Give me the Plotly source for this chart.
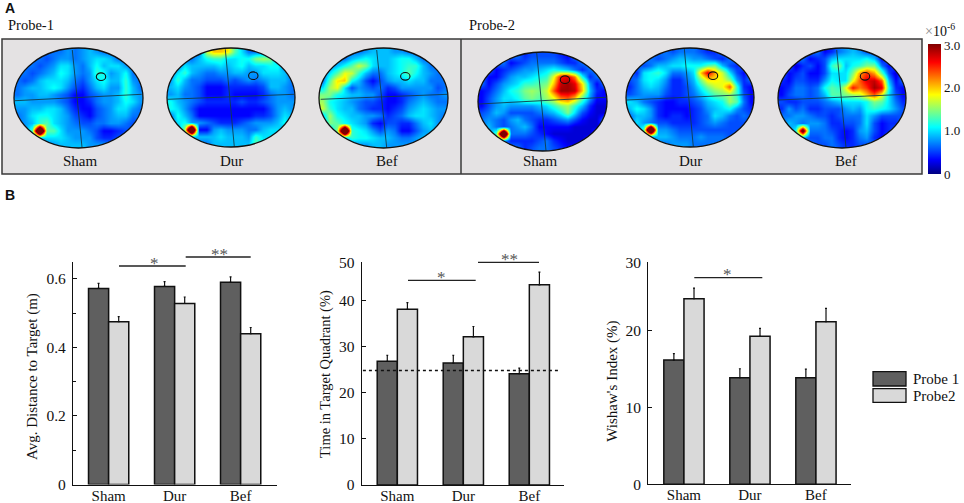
import numpy as np
import plotly.graph_objects as go

groups = ["Sham", "Dur", "Bef"]

# bar values
dist_probe1 = [0.572, 0.578, 0.590]
dist_probe2 = [0.475, 0.528, 0.440]
dist_err1 = [0.015, 0.014, 0.016]
dist_err2 = [0.015, 0.019, 0.018]

time_probe1 = [26.9, 26.5, 24.2]
time_probe2 = [38.2, 32.2, 43.5]
time_err1 = [1.3, 1.7, 1.2]
time_err2 = [1.45, 2.25, 2.75]

wish_probe1 = [16.2, 13.9, 13.9]
wish_probe2 = [24.2, 19.3, 21.2]
wish_err1 = [0.83, 1.17, 1.13]
wish_err2 = [1.39, 1.04, 1.74]

p1_sham = [
    [6,6,6,6,6,6,6,7,6,7,8,7,6,6,6,6,6,6],
    [6,6,6,6,5,6,7,7,6,7,8,9,9,8,6,6,6,6],
    [6,6,6,5,6,7,9,9,7,6,8,10,8,9,9,7,6,6],
    [6,6,5,6,7,8,10,9,7,6,7,11,10,7,8,10,6,6],
    [6,5,6,8,9,9,9,8,6,5,7,9,10,8,8,11,7,6],
    [6,7,8,8,9,10,9,7,5,4,6,8,9,7,7,11,8,6],
    [6,7,7,8,8,7,6,5,3,3,5,6,7,7,8,11,8,7],
    [8,8,7,7,7,7,6,5,3,3,4,6,7,7,8,10,9,7],
    [7,7,8,8,9,9,8,6,4,3,3,5,6,7,9,9,7,6],
    [6,7,9,10,10,9,8,7,5,4,3,5,6,7,8,8,6,6],
    [6,7,8,11,12,9,8,7,6,5,5,6,6,7,7,6,5,5],
    [6,6,12,45,12,12,9,7,7,7,6,5,3,3,4,5,5,6],
    [6,6,6,8,9,9,9,8,7,7,7,5,4,4,5,5,6,6],
    [6,6,6,6,6,7,8,8,8,8,7,7,7,6,6,6,6,6],
]
p1_dur = [
    [6,6,6,6,6,15,18,18,17,12,9,6,6,6,6,6,6,6],
    [6,6,6,6,8,10,11,11,9,9,10,10,13,14,13,6,6,6],
    [6,6,9,8,8,8,8,9,8,9,10,8,9,9,10,10,6,6],
    [6,9,11,8,7,6,6,7,7,8,8,7,7,9,9,9,8,6],
    [7,11,8,6,6,5,5,5,6,5,6,7,6,7,8,8,8,6],
    [8,9,7,6,5,3,3,3,4,4,4,4,4,5,8,8,7,6],
    [7,8,6,6,5,3,3,3,4,3,3,3,3,4,6,7,7,6],
    [10,8,7,6,5,4,4,4,4,4,5,4,4,5,6,7,7,7],
    [10,9,7,5,3,3,3,3,3,3,3,3,3,3,5,7,8,7],
    [6,10,8,6,3,3,3,3,3,3,3,3,4,4,5,7,9,8],
    [6,9,10,7,7,6,5,4,4,4,5,6,7,7,7,8,10,7],
    [6,6,14,45,3,3,7,8,7,7,7,6,6,8,9,9,7,6],
    [6,6,6,8,8,8,8,9,8,8,8,7,11,9,9,8,6,6],
    [6,6,6,6,6,6,8,8,8,8,8,8,12,10,6,6,6,6],
]
p1_bef = [
    [6,6,6,6,6,6,7,8,8,8,7,7,6,6,6,6,6,6],
    [6,6,6,6,8,9,10,9,8,8,9,10,10,8,6,6,6,6],
    [6,6,8,10,12,15,13,9,8,8,9,10,11,11,8,6,6,6],
    [6,9,12,16,15,11,8,6,6,8,9,10,12,10,8,7,6,6],
    [6,12,17,18,10,8,5,3,5,7,8,8,9,8,8,6,6,6],
    [9,14,16,9,5,7,6,5,6,4,5,7,7,7,7,7,5,6],
    [13,13,10,9,8,8,7,7,5,3,3,4,5,6,7,6,6,7],
    [14,10,9,8,7,6,5,5,4,3,3,4,6,7,8,7,6,6],
    [15,11,9,8,8,6,5,4,4,3,4,5,7,8,9,8,7,7],
    [8,14,10,9,8,8,7,7,6,4,5,6,8,9,9,8,7,6],
    [6,13,12,10,9,8,7,4,3,5,5,4,4,6,8,9,7,6],
    [6,6,14,45,11,10,9,7,5,7,6,3,3,5,7,8,7,6],
    [6,6,6,8,11,10,10,9,8,8,7,6,6,7,8,7,6,6],
    [6,6,6,6,6,7,7,8,8,7,7,7,7,7,6,6,6,6],
]
p2_sham = [
    [6,6,6,6,6,6,4,5,5,5,5,4,3,6,6,6,6,6],
    [6,6,6,6,3,4,5,6,6,6,6,5,4,4,6,6,6,6],
    [6,6,3,4,5,6,7,7,8,9,10,9,8,6,4,6,6,6],
    [6,3,3,5,7,8,8,9,10,11,16,23,24,20,10,4,6,6],
    [6,3,5,7,8,9,11,11,12,13,18,25,26,24,17,7,3,6],
    [3,4,6,8,10,11,13,14,13,15,21,26,26,25,18,8,4,3],
    [3,5,7,9,9,10,12,13,12,14,16,20,21,18,12,7,3,3],
    [3,5,7,8,7,7,7,7,8,9,11,13,14,11,8,4,2,2],
    [5,6,8,7,5,5,5,5,6,7,8,10,13,9,5,3,2,2],
    [6,7,6,5,7,8,6,5,4,4,5,6,7,5,3,2,2,6],
    [6,8,6,5,6,7,8,6,3,3,3,3,3,2,2,2,2,6],
    [6,6,12,45,6,6,6,5,4,3,2,2,2,2,2,2,6,6],
    [6,6,6,7,4,4,4,4,5,6,4,3,2,2,2,6,6,6],
    [6,6,6,6,6,6,4,5,6,6,5,4,3,3,6,6,6,6],
]
p2_dur = [
    [6,6,6,6,6,6,5,6,6,6,5,4,4,6,6,6,6,6],
    [6,6,6,6,5,6,7,8,8,7,7,6,5,4,6,6,6,6],
    [6,6,5,6,8,8,9,9,10,10,10,12,13,8,5,4,6,6],
    [6,4,9,10,11,9,6,6,7,9,18,24,19,15,9,5,3,6],
    [5,6,9,10,9,7,4,4,6,8,13,17,17,16,13,7,4,6],
    [4,6,8,9,8,6,4,4,5,7,10,13,15,16,21,11,4,3],
    [5,6,7,7,7,5,4,4,5,6,8,10,12,13,14,11,5,3],
    [9,8,6,5,4,3,3,4,4,5,6,8,9,10,14,12,6,3],
    [8,10,9,7,4,3,3,3,3,4,5,7,8,9,10,7,5,4],
    [6,8,8,7,4,3,4,4,3,4,5,6,9,8,6,5,6,5],
    [6,9,7,6,5,5,4,4,4,4,5,6,7,6,5,5,5,5],
    [6,6,12,45,7,7,6,5,5,5,5,5,5,5,5,5,5,6],
    [6,6,6,7,8,8,7,6,6,6,7,6,6,6,5,6,6,6],
    [6,6,6,6,6,6,7,7,7,6,6,6,6,6,6,6,6,6],
]
p2_bef = [
    [6,6,6,6,6,6,3,4,6,7,8,7,5,5,6,6,6,6],
    [6,6,6,6,3,4,5,8,9,9,9,9,10,8,3,6,6,6],
    [6,6,2,4,5,3,5,11,13,8,10,11,13,13,6,3,6,6],
    [6,3,4,5,3,3,5,9,9,9,13,19,22,19,12,5,2,6],
    [4,3,5,5,4,4,7,10,9,9,16,21,24,25,21,8,3,6],
    [3,4,6,6,5,6,10,12,11,16,23,20,22,26,24,10,4,3],
    [3,5,6,6,5,6,8,12,12,13,14,15,18,21,16,9,5,3],
    [5,4,4,5,5,5,6,7,8,9,9,9,10,13,12,9,6,4],
    [4,7,5,6,4,4,5,5,5,7,8,7,10,11,10,9,7,5],
    [6,6,7,7,6,5,5,4,5,6,6,6,9,7,5,5,5,5],
    [6,8,7,6,7,7,6,4,4,5,5,6,9,5,3,4,4,6],
    [6,6,10,32,6,6,6,5,4,3,4,7,8,5,3,4,6,6],
    [6,6,6,7,5,5,6,6,4,3,4,6,7,4,3,6,6,6],
    [6,6,6,6,6,5,5,6,5,4,4,5,5,6,6,6,6,6],
]

W, H = 964, 503
serif = "Liberation Serif"
grey_bg = "#e4e2e3"
jet = [[0, "#000080"], [0.11, "#0000ff"], [0.36, "#00ffff"], [0.61, "#ffff00"], [0.86, "#ff0000"], [1, "#800000"]]

# pool positions on the page: grid, left, right, top, bottom, target circle, cross lines
pools = [
    (p1_sham, 14, 143, 48, 148, (101, 76.7), (72.3, 50, 82, 147.3), (15, 100.7, 141.7, 94.3), "Sham", 80.7),
    (p1_dur, 167, 295, 48, 147, (253.3, 75.7), (225.3, 49.3, 234.3, 146.7), (167.7, 99.3, 294, 94.3), "Dur", 231),
    (p1_bef, 319, 448, 48, 148, (405.3, 76.3), (376.7, 50, 386.7, 147.7), (320.7, 99.3, 447.3, 94.3), "Bef", 386.7),
    (p2_sham, 478, 607, 52, 151, (565, 79.7), (536.7, 52.7, 546, 150.7), (479, 104, 606, 97.3), "Sham", 540),
    (p2_dur, 626, 754, 48, 147, (713, 75.7), (684.3, 48.7, 693.3, 146.7), (626.7, 100, 754, 94.3), "Dur", 690.7),
    (p2_bef, 778, 906, 48, 148, (865, 76.3), (836.7, 50, 846, 147.7), (778.3, 100, 905.7, 94.3), "Bef", 846),
]

fig = go.Figure()
shapes = []
annots = []


def text(x, y, s, size=15.5, color="#111", font=serif, angle=0, xanchor="center", bold=False):
    annots.append(dict(x=x, y=y, xref="x", yref="y", text=f"<b>{s}</b>" if bold else s, showarrow=False,
                       xanchor=xanchor, yanchor="middle", textangle=angle,
                       font=dict(family=font, size=size, color=color)))


def line(x0, y0, x1, y1, color="#111", width=1.3):
    shapes.append(dict(type="line", x0=x0, y0=y0, x1=x1, y1=y1, xref="x", yref="y",
                       line=dict(color=color, width=width)))


# grey panel behind the maps
shapes.append(dict(type="rect", x0=2, x1=922, y0=39, y1=174, xref="x", yref="y", layer="below",
                   fillcolor=grey_bg, line=dict(color="#3a3a3a", width=1.5)))
line(461, 39, 461, 174, "#3a3a3a", 1.5)

for grid, left, right, top, bottom, target, vline, hline, name, name_x in pools:
    z = np.array(grid) / 9
    dx = (right - left) / z.shape[1]
    dy = (bottom - top) / z.shape[0]
    fig.add_trace(go.Heatmap(z=z, x0=left + dx / 2, dx=dx, y0=top + dy / 2, dy=dy, coloraxis="coloraxis",
                             zsmooth="best", hoverinfo="skip", xaxis="x", yaxis="y"))
    cx, cy = (left + right) / 2, (top + bottom) / 2
    rx, ry = (right - left) / 2, (bottom - top) / 2
    # grey mask cuts the square map down to the round pool
    t = np.linspace(0, 2 * np.pi, 90)
    ring = "L".join(f"{cx + rx * np.cos(a):.2f},{cy + ry * np.sin(a):.2f}" for a in t)
    path = f"M{left-2},{top-2}L{right+2},{top-2}L{right+2},{bottom+2}L{left-2},{bottom+2}Z M{ring}Z"
    shapes.append(dict(type="path", path=path, xref="x", yref="y", fillcolor=grey_bg, fillrule="evenodd",
                       line=dict(width=0)))
    line(*vline, "#123c4a", 0.9)
    line(*hline, "#123c4a", 0.9)
    shapes.append(dict(type="circle", x0=left, x1=right, y0=top, y1=bottom, xref="x", yref="y",
                       line=dict(color="#111", width=1.3)))
    shapes.append(dict(type="circle", x0=target[0] - 4.7, x1=target[0] + 4.7, y0=target[1] - 3.8, y1=target[1] + 3.8,
                       xref="x", yref="y", line=dict(color="#111", width=1.1)))
    text(name_x, 161, name, 15)

text(3, 8, "A", 14, "#111", "Liberation Sans", xanchor="left", bold=True)
text(3, 195, "B", 14, "#111", "Liberation Sans", xanchor="left", bold=True)
text(6, 25, "Probe-1", 14.5, xanchor="left")
text(467, 25, "Probe-2", 14.5, xanchor="left")
text(923, 30, "<span style='color:#888'>×</span>10<sup>-6</sup>", 14, xanchor="left")

# bar panels: values, errors, axis box on the page, y ticks
panels = [
    (dist_probe1, dist_probe2, dist_err1, dist_err2, 73, 277, 261.7, 484.5, [0, 0.65],
     [0, 0.2, 0.4, 0.6], ["0", "0.2", "0.4", "0.6"]),
    (time_probe1, time_probe2, time_err1, time_err2, 361.7, 564, 262.3, 485, [0, 48.4],
     [0, 10, 20, 30, 40, 48.4], ["0", "10", "20", "30", "40", "50"]),
    (wish_probe1, wish_probe2, wish_err1, wish_err2, 648.3, 851, 262.3, 484.3, [0, 28.95],
     [0, 10, 20, 28.95], ["0", "10", "20", "30"]),
]

layout_axes = {}
for n, (v1, v2, e1, e2, x0, x1, y_top, y_bot, yr, tv, tt) in enumerate(panels, start=2):
    for vals, errs, col in [(v1, e1, "#5f5f5f"), (v2, e2, "#d9d9d9")]:
        fig.add_trace(go.Bar(x=groups, y=vals, xaxis=f"x{n}", yaxis=f"y{n}", marker=dict(color=col, line=dict(color="#111", width=1.5)),
                             error_y=dict(type="data", array=errs, arrayminus=[0, 0, 0], symmetric=False,
                                          color="#111", thickness=1.2, width=1),
                             hoverinfo="skip", showlegend=False, offsetgroup=col))
    layout_axes[f"xaxis{n}"] = dict(domain=[x0 / W, x1 / W], anchor=f"y{n}", range=[-0.54, (x1 - x0) / 66 - 0.54],
                                    showline=True, linecolor="#111", linewidth=1.3, ticks="", showgrid=False,
                                    ticklabelstandoff=-3, tickfont=dict(family=serif, size=15, color="#111"))
    layout_axes[f"yaxis{n}"] = dict(domain=[1 - y_bot / H, 1 - y_top / H], anchor=f"x{n}", range=yr,
                                    showline=True, linecolor="#111", linewidth=1.3, showgrid=False, zeroline=False,
                                    tickmode="array", tickvals=tv, ticktext=tt, ticks="inside", ticklen=4,
                                    tickcolor="#111", ticklabelstandoff=3,
                                    tickfont=dict(family=serif, size=15.5, color="#111"))
layout_axes["yaxis2"]["minor"] = dict(tickvals=[0.1, 0.3, 0.5], ticks="inside", ticklen=3, tickcolor="#111")

text(32, 377, "Avg. Distance to Target (m)", 15, angle=-90)
text(325, 374, "Time in Target Quadrant (%)", 14.5, angle=-90)
text(611.7, 381, "Wishaw's Index (%)", 15, angle=-90)

# chance level on the quadrant panel
shapes.append(dict(type="line", xref="x3 domain", yref="y3", x0=0.006, x1=0.98, y0=24.9, y1=24.9,
                   line=dict(color="#111", width=1.6, dash="dot")))

# significance brackets: x0, x1, y, stars, star x
brackets = [
    (119, 185.7, 266, "*", 154),
    (185.7, 250.7, 257, "**", 219),
    (408, 475.7, 280.3, "*", 441.7),
    (478, 539, 262.3, "**", 509),
    (694.3, 762.3, 277.7, "*", 727.7),
]
for bx0, bx1, by, stars, sx in brackets:
    line(bx0, by, bx1, by, "#222", 1.3)
    text(sx, by - 3, stars, 17, "#555")

# legend block
for y0, y1, col, label in [(371.7, 386, "#5f5f5f", "Probe 1"), (388.7, 402.3, "#d9d9d9", "Probe2")]:
    shapes.append(dict(type="rect", x0=873, x1=906, y0=y0, y1=y1, xref="x", yref="y", fillcolor=col,
                       line=dict(color="#111", width=1.3)))
    text(911, (y0 + y1) / 2, label, 15, xanchor="left")

fig.update_layout(
    width=W, height=H, margin=dict(l=0, r=0, t=0, b=0, autoexpand=False), showlegend=False,
    paper_bgcolor="white", plot_bgcolor="rgba(0,0,0,0)", barmode="group", bargap=0.39, bargroupgap=0,
    xaxis=dict(domain=[0, 1], range=[0, W], visible=False, fixedrange=True),
    yaxis=dict(domain=[0, 1], range=[H, 0], visible=False, fixedrange=True),
    coloraxis=dict(cmin=0, cmax=3, colorscale=jet,
                   colorbar=dict(x=928 / W, xanchor="left", xpad=0, y=1 - 174 / H, yanchor="bottom", ypad=0,
                                 lenmode="pixels", len=130, thicknessmode="pixels", thickness=13, outlinewidth=0,
                                 tickmode="array", tickvals=[0, 1, 2, 2.97], ticktext=["0", "1.0", "2.0", "3.0"],
                                 ticks="", tickfont=dict(family=serif, size=13, color="#111"))),
    shapes=shapes, annotations=annots, **layout_axes,
)

fig.write_html("out.html", config=dict(displayModeBar=False),
               post_script="document.body.style.margin='0';document.body.style.overflow='hidden';")
